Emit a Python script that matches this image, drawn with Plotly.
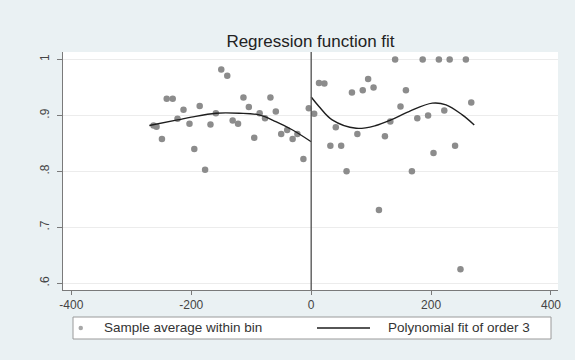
import plotly.graph_objects as go

# Binned sample averages, left of the cutoff
bin_x_left = [-263, -258, -249, -241, -231, -223, -213, -203, -195, -186,
              -177, -168, -159, -150, -140, -131, -122, -113, -104, -95,
              -86, -77, -68, -59, -50, -40, -31, -23, -13, -4]
bin_y_left = [0.882, 0.880, 0.858, 0.930, 0.930, 0.894, 0.910, 0.885, 0.840, 0.917,
              0.803, 0.884, 0.904, 0.982, 0.971, 0.891, 0.885, 0.932, 0.915, 0.860,
              0.904, 0.895, 0.932, 0.907, 0.867, 0.874, 0.858, 0.867, 0.822, 0.913]

# Binned sample averages, right of the cutoff
bin_x_right = [5, 13, 22, 32, 41, 50, 59, 68, 77, 86,
               95, 104, 113, 123, 132, 140, 149, 158, 168, 177,
               186, 195, 204, 213, 222, 231, 240, 249, 258, 267]
bin_y_right = [0.903, 0.958, 0.957, 0.846, 0.879, 0.846, 0.800, 0.941, 0.867, 0.945,
               0.965, 0.950, 0.731, 0.863, 0.889, 1.000, 0.916, 0.945, 0.800, 0.895,
               1.000, 0.900, 0.833, 1.000, 0.909, 1.000, 0.846, 0.625, 1.000, 0.923]

# Order-3 polynomial fit on each side
fit_x_left = [-270, -223, -200, -159, -120, -87, -59, -31, 0]
fit_y_left = [0.882, 0.892, 0.897, 0.904, 0.904, 0.901, 0.889, 0.874, 0.853]
fit_x_right = [0, 13, 35, 75, 108, 133, 163, 202, 225, 252, 272]
fit_y_right = [0.933, 0.916, 0.892, 0.877, 0.882, 0.892, 0.907, 0.922, 0.919, 0.901, 0.883]

x_ticks = [-400, -200, 0, 200, 400]
x_tick_text = ["-400", "-200", "0", "200", "400"]
y_ticks = [0.6, 0.7, 0.8, 0.9, 1.0]
y_tick_text = [".6", ".7", ".8", ".9", "1"]

title_text = "Regression function fit"
legend_labels = ["Sample average within bin", "Polynomial fit of order 3"]

W, H = 575, 360
M_L, M_R, M_T, M_B = 63, 17, 52, 70
BG = "#EAF1F3"
DOT = "#8c8c8c"
FONT = "Liberation Sans, Arial, sans-serif"

fig = go.Figure()

for xs, ys in ((bin_x_left, bin_y_left), (bin_x_right, bin_y_right)):
    fig.add_trace(go.Scatter(
        x=xs, y=ys, mode="markers", name=legend_labels[0],
        marker=dict(color=DOT, size=6.5, line=dict(width=0)),
        showlegend=False, hoverinfo="x+y"))

for xs, ys in ((fit_x_left, fit_y_left), (fit_x_right, fit_y_right)):
    fig.add_trace(go.Scatter(
        x=xs, y=ys, mode="lines", name=legend_labels[1], line_shape="spline",
        line=dict(color="#1e1e1e", width=1.4),
        showlegend=False, hoverinfo="x+y"))

# Cutoff line at zero
fig.add_shape(type="line", xref="x", yref="paper", x0=0, x1=0, y0=0, y1=1,
              line=dict(color="#5a5a5a", width=1.4), layer="above")

# Legend box drawn below the axis
pw = W - M_L - M_R
ph = H - M_T - M_B


def px(xp):
    return (xp - M_L) / pw


def py(yp):
    return (H - M_B - yp) / ph


leg_top, leg_bot, leg_mid = 317, 339, 328
fig.add_shape(type="rect", xref="paper", yref="paper",
              x0=px(73), x1=px(551), y0=py(leg_bot), y1=py(leg_top),
              line=dict(color="#9a9a9a", width=1), fillcolor="white", layer="below")
fig.add_shape(type="circle", xref="paper", yref="paper",
              x0=px(78.5), x1=px(83), y0=py(leg_mid + 2.2), y1=py(leg_mid - 2.2),
              line=dict(width=0), fillcolor="#a8a8a8")
fig.add_shape(type="line", xref="paper", yref="paper",
              x0=px(317), x1=px(370), y0=py(leg_mid), y1=py(leg_mid),
              line=dict(color="#1e1e1e", width=1.4))
fig.add_annotation(text=legend_labels[0], xref="paper", yref="paper",
                   x=px(102), y=py(leg_mid), xanchor="left", yanchor="middle",
                   showarrow=False, font=dict(family=FONT, size=13.5, color="#333"))
fig.add_annotation(text=legend_labels[1], xref="paper", yref="paper",
                   x=px(386), y=py(leg_mid), xanchor="left", yanchor="middle",
                   showarrow=False, font=dict(family=FONT, size=13.5, color="#333"))

fig.update_layout(
    width=W, height=H,
    margin=dict(l=M_L, r=M_R, t=M_T, b=M_B, pad=0),
    paper_bgcolor=BG, plot_bgcolor="white",
    font=dict(family=FONT, size=12, color="#444"),
    showlegend=False,
    title=dict(text=title_text, x=0.5, xref="paper", xanchor="center",
               y=1 - 41 / H, yref="container", yanchor="middle",
               font=dict(family=FONT, size=17, color="#222")),
    xaxis=dict(range=[-414, 411.7], tickvals=x_ticks, ticktext=x_tick_text,
               showgrid=False, zeroline=False, showline=True, linecolor="#7a7a7a",
               linewidth=1, ticks="outside", ticklen=4, tickcolor="#7a7a7a",
               tickfont=dict(size=12, color="#444")),
    yaxis=dict(range=[0.5878, 1.0135], tickvals=y_ticks, ticktext=y_tick_text,
               showgrid=True, gridcolor="#ececec", gridwidth=1, zeroline=False,
               showline=True, linecolor="#7a7a7a", linewidth=1,
               ticks="outside", ticklen=5, tickcolor="#7a7a7a", tickangle=-90,
               ticklabelstandoff=3,
               tickfont=dict(size=12, color="#444")),
)

fig.write_html("out.html")
